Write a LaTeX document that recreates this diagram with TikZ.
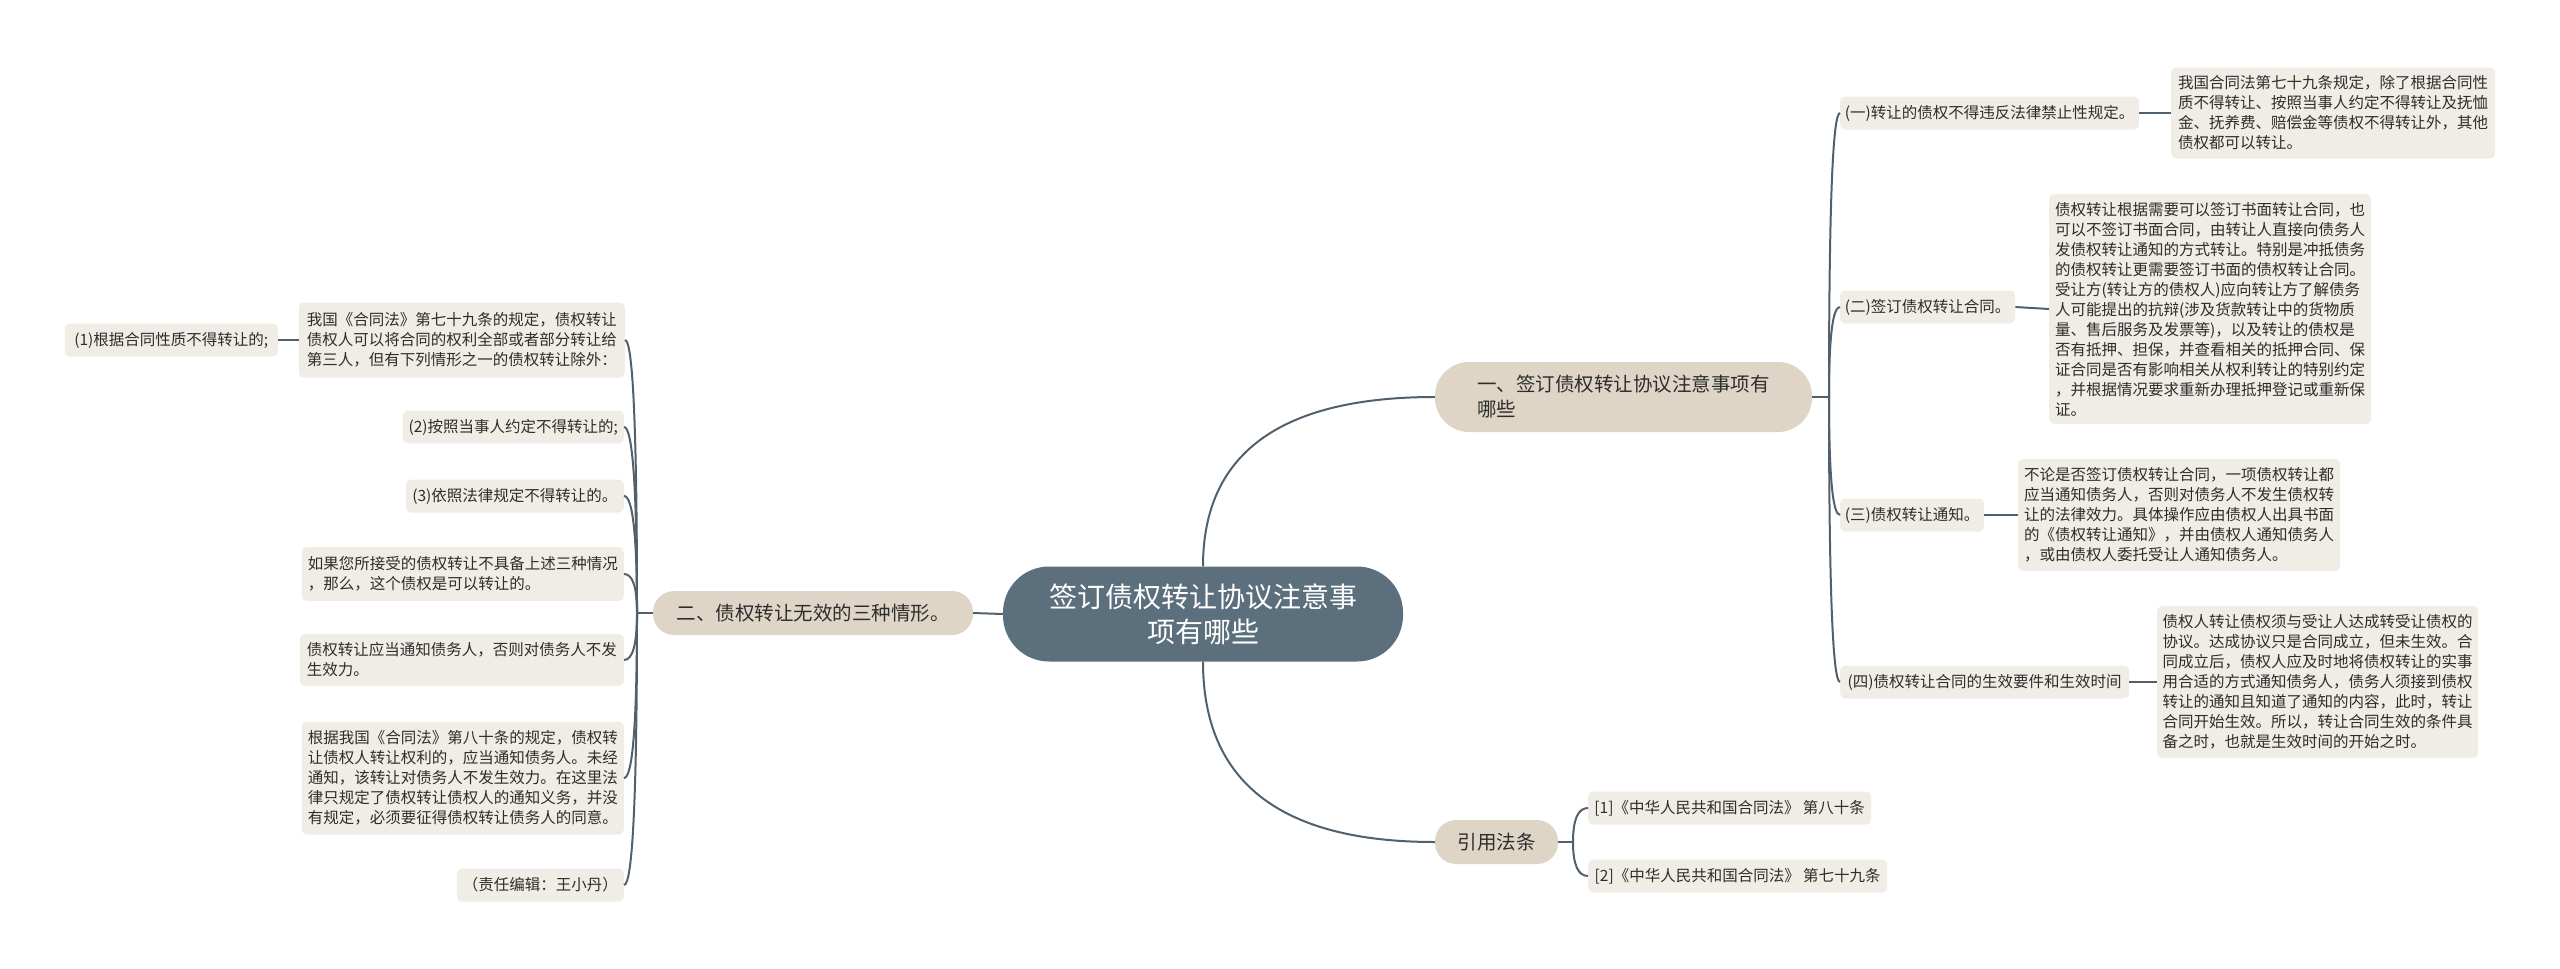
\documentclass[tikz,border=0pt]{standalone}
\usepackage{fontspec}
\usetikzlibrary{calc}
\setmainfont{Noto Sans CJK SC}
\definecolor{centralc}{RGB}{92,111,124}
\definecolor{lonec}{RGB}{222,213,198}
\definecolor{ltwoc}{RGB}{240,237,230}
\definecolor{linec}{RGB}{80,96,108}
\definecolor{textc}{RGB}{45,45,45}
\tikzset{
  conn/.style={draw=linec, line width=2pt},
  central/.style={fill=centralc, text=white, rounded corners=46pt, font=\fontsize{28}{35}\selectfont, align=center, inner sep=0pt, minimum width=400pt, minimum height=95pt},
  lone/.style={fill=lonec, text=textc, font=\fontsize{19.5}{25}\selectfont, align=left, inner sep=0pt},
  ltwo/.style={fill=ltwoc, text=textc, rounded corners=5pt, font=\fontsize{15.5}{20}\selectfont, align=left, inner sep=0pt},
  short/.style={ltwo, minimum height=33pt},
}
% quadratic curve from #1 to #3 with control point #2
\newcommand{\qcurve}[3]{\draw[conn] (#1) .. controls ($(#1)!2/3!(#2)$) and ($(#3)!2/3!(#2)$) .. (#3);}
\begin{document}
\begin{tikzpicture}[x=1pt,y=-1pt]
\useasboundingbox (0,0) rectangle (2560,969);
% central
\node[central] (C) at (1203,614) {签订债权转让协议注意事\\项有哪些};
% level 1
\node[lone, rounded corners=34pt, minimum width=377pt, minimum height=70pt] (La) at (1623.5,397) {一、签订债权转让协议注意事项有\\哪些};
\node[lone, rounded corners=21pt, minimum width=320pt, minimum height=44pt] (Lb) at (813,613) {二、债权转让无效的三种情形。};
\node[lone, rounded corners=21pt, minimum width=123pt, minimum height=44pt] (Lc) at (1496.5,842) {引用法条};
% right level 2
\node[short, minimum width=299pt, anchor=west] (A1) at (1840,113) {(一)转让的债权不得违反法律禁止性规定。};
\node[short, minimum width=175pt, anchor=west] (A2) at (1840,307) {(二)签订债权转让合同。};
\node[short, minimum width=144pt, anchor=west] (A3) at (1840,515) {(三)债权转让通知。};
\node[short, minimum width=289pt, anchor=west] (A4) at (1840,682) {(四)债权转让合同的生效要件和生效时间};
% details
\node[ltwo, minimum width=324pt, minimum height=91pt, anchor=west] (A1d) at (2171,113) {我国合同法第七十九条规定，除了根据合同性\\质不得转让、按照当事人约定不得转让及抚恤\\金、抚养费、赔偿金等债权不得转让外，其他\\债权都可以转让。};
\node[ltwo, minimum width=322pt, minimum height=230pt, anchor=west] (A2d) at (2049,309) {债权转让根据需要可以签订书面转让合同，也\\可以不签订书面合同，由转让人直接向债务人\\发债权转让通知的方式转让。特别是冲抵债务\\的债权转让更需要签订书面的债权转让合同。\\受让方(转让方的债权人)应向转让方了解债务\\人可能提出的抗辩(涉及货款转让中的货物质\\量、售后服务及发票等)，以及转让的债权是\\否有抵押、担保，并查看相关的抵押合同、保\\证合同是否有影响相关从权利转让的特别约定\\，并根据情况要求重新办理抵押登记或重新保\\证。};
\node[ltwo, minimum width=322pt, minimum height=112pt, anchor=west] (A3d) at (2018,515) {不论是否签订债权转让合同，一项债权转让都\\应当通知债务人，否则对债务人不发生债权转\\让的法律效力。具体操作应由债权人出具书面\\的《债权转让通知》，并由债权人通知债务人\\，或由债权人委托受让人通知债务人。};
\node[ltwo, minimum width=321pt, minimum height=152pt, anchor=west] (A4d) at (2157,682) {债权人转让债权须与受让人达成转受让债权的\\协议。达成协议只是合同成立，但未生效。合\\同成立后，债权人应及时地将债权转让的实事\\用合适的方式通知债务人，债务人须接到债权\\转让的通知且知道了通知的内容，此时，转让\\合同开始生效。所以，转让合同生效的条件具\\备之时，也就是生效时间的开始之时。};
% references
\node[short, minimum width=283pt, anchor=west] (R1) at (1588,808) {[1]《中华人民共和国合同法》 第八十条};
\node[short, minimum width=299pt, anchor=west] (R2) at (1588,876) {[2]《中华人民共和国合同法》 第七十九条};
% left level 2
\node[ltwo, minimum width=326pt, minimum height=75pt, anchor=east] (B0) at (625,340) {我国《合同法》第七十九条的规定，债权转让\\债权人可以将合同的权利全部或者部分转让给\\第三人，但有下列情形之一的债权转让除外：};
\node[short, minimum width=213pt, anchor=east] (B0a) at (278,340) {(1)根据合同性质不得转让的;};
\node[short, minimum width=221pt, anchor=east] (B1) at (624,427) {(2)按照当事人约定不得转让的;};
\node[short, minimum width=218pt, anchor=east] (B2) at (624,496) {(3)依照法律规定不得转让的。};
\node[ltwo, minimum width=322pt, minimum height=54pt, anchor=east] (B3) at (624,574) {如果您所接受的债权转让不具备上述三种情况\\，那么，这个债权是可以转让的。};
\node[ltwo, minimum width=324pt, minimum height=52pt, anchor=east] (B4) at (624,660) {债权转让应当通知债务人，否则对债务人不发\\生效力。};
\node[ltwo, minimum width=322pt, minimum height=113pt, anchor=east] (B5) at (624,778) {根据我国《合同法》第八十条的规定，债权转\\让债权人转让权利的，应当通知债务人。未经\\通知，该转让对债务人不发生效力。在这里法\\律只规定了债权转让债权人的通知义务，并没\\有规定，必须要征得债权转让债务人的同意。};
\node[short, minimum width=167pt, anchor=east] (B6) at (624,885) {（责任编辑：王小丹）};
% junctions and corner points
\coordinate (J1) at (1829,397);
\coordinate (J2) at (637,613);
\coordinate (J3) at (1573,842);
\coordinate (Ct) at (C.north |- La.west);
\coordinate (Cb) at (C.south |- Lc.west);
% central connectors
\qcurve{C.north}{Ct}{La.west}
\qcurve{C.south}{Cb}{Lc.west}
\draw[conn] (C.west) -- (Lb.east);
% right trunk
\draw[conn] (La.east) -- (J1);
\foreach \n in {A1,A2,A3,A4}{
  \coordinate (k) at (J1 |- \n.west);
  \qcurve{J1}{k}{\n.west}
}
\draw[conn] (A1.east) -- (A1d.west);
\draw[conn] (A2.east) -- (A2d.west);
\draw[conn] (A3.east) -- (A3d.west);
\draw[conn] (A4.east) -- (A4d.west);
% references
\draw[conn] (Lc.east) -- (J3);
\foreach \n in {R1,R2}{
  \coordinate (k) at (J3 |- \n.west);
  \qcurve{J3}{k}{\n.west}
}
% left trunk
\draw[conn] (Lb.west) -- (J2);
\foreach \n in {B0,B1,B2,B3,B4,B5,B6}{
  \coordinate (k) at (J2 |- \n.east);
  \qcurve{J2}{k}{\n.east}
}
\draw[conn] (B0a.east) -- (B0.west);
\end{tikzpicture}
\end{document}
